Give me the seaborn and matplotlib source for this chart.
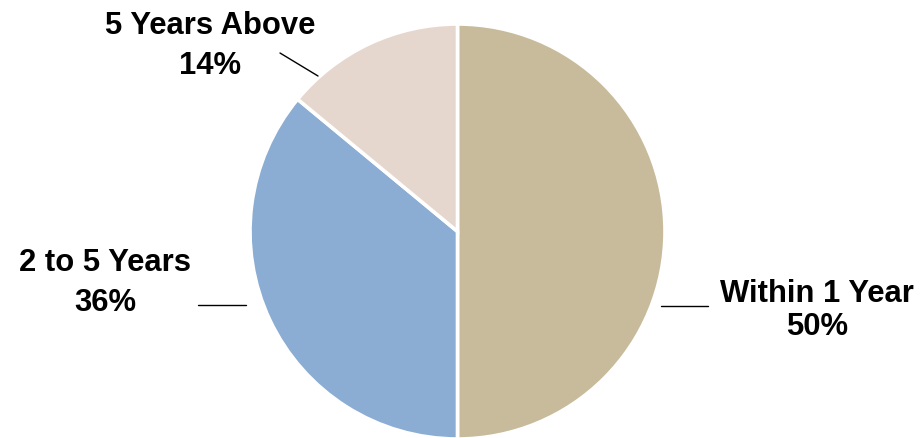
import matplotlib
matplotlib.use("Agg")
import matplotlib.pyplot as plt
import seaborn as sns

# Maturity breakdown
categories = ["Within 1 Year", "2 to 5 Years", "5 Years Above"]
shares = [50, 36, 14]
colors = ["#C8BB9B", "#8BADD3", "#E6D7CE"]

sns.set_theme(style="white")
plt.rcParams["font.family"] = ["Liberation Sans", "DejaVu Sans"]

W, H = 922, 438
fig = plt.figure(figsize=(W / 100, H / 100), dpi=100)
ax = fig.add_axes([0, 0, 1, 1])

cx, cy, r = 457.5, H - 231.5, 207.5
ax.pie(shares, colors=colors, startangle=90, counterclock=False,
       center=(cx, cy), radius=r,
       wedgeprops=dict(edgecolor="white", linewidth=2.6))
ax.set_xlim(0, W)
ax.set_ylim(0, H)
ax.set_aspect("equal")
ax.axis("off")

# label blocks: (center x, name baseline y, percent baseline y) in pixels from top
label_pos = {
    "Within 1 Year": (817, 302, 335),
    "2 to 5 Years": (105, 271, 311),
    "5 Years Above": (210, 34, 74),
}
leaders = {
    "Within 1 Year": [(661, 306), (708, 306)],
    "2 to 5 Years": [(198, 305), (246, 305)],
    "5 Years Above": [(280, 53), (318, 76)],
}
fs = 22.3
for name, val in zip(categories, shares):
    x, b1, b2 = label_pos[name]
    ax.text(x, H - b1, name, ha="center", va="baseline", fontsize=fs,
            fontweight="bold", color="black")
    ax.text(x, H - b2, f"{val}%", ha="center", va="baseline", fontsize=fs,
            fontweight="bold", color="black")
    (x0, y0), (x1, y1) = leaders[name]
    ax.plot([x0, x1], [H - y0, H - y1], color="black", linewidth=1.0)

fig.savefig("out.png", dpi=100, facecolor="white")
